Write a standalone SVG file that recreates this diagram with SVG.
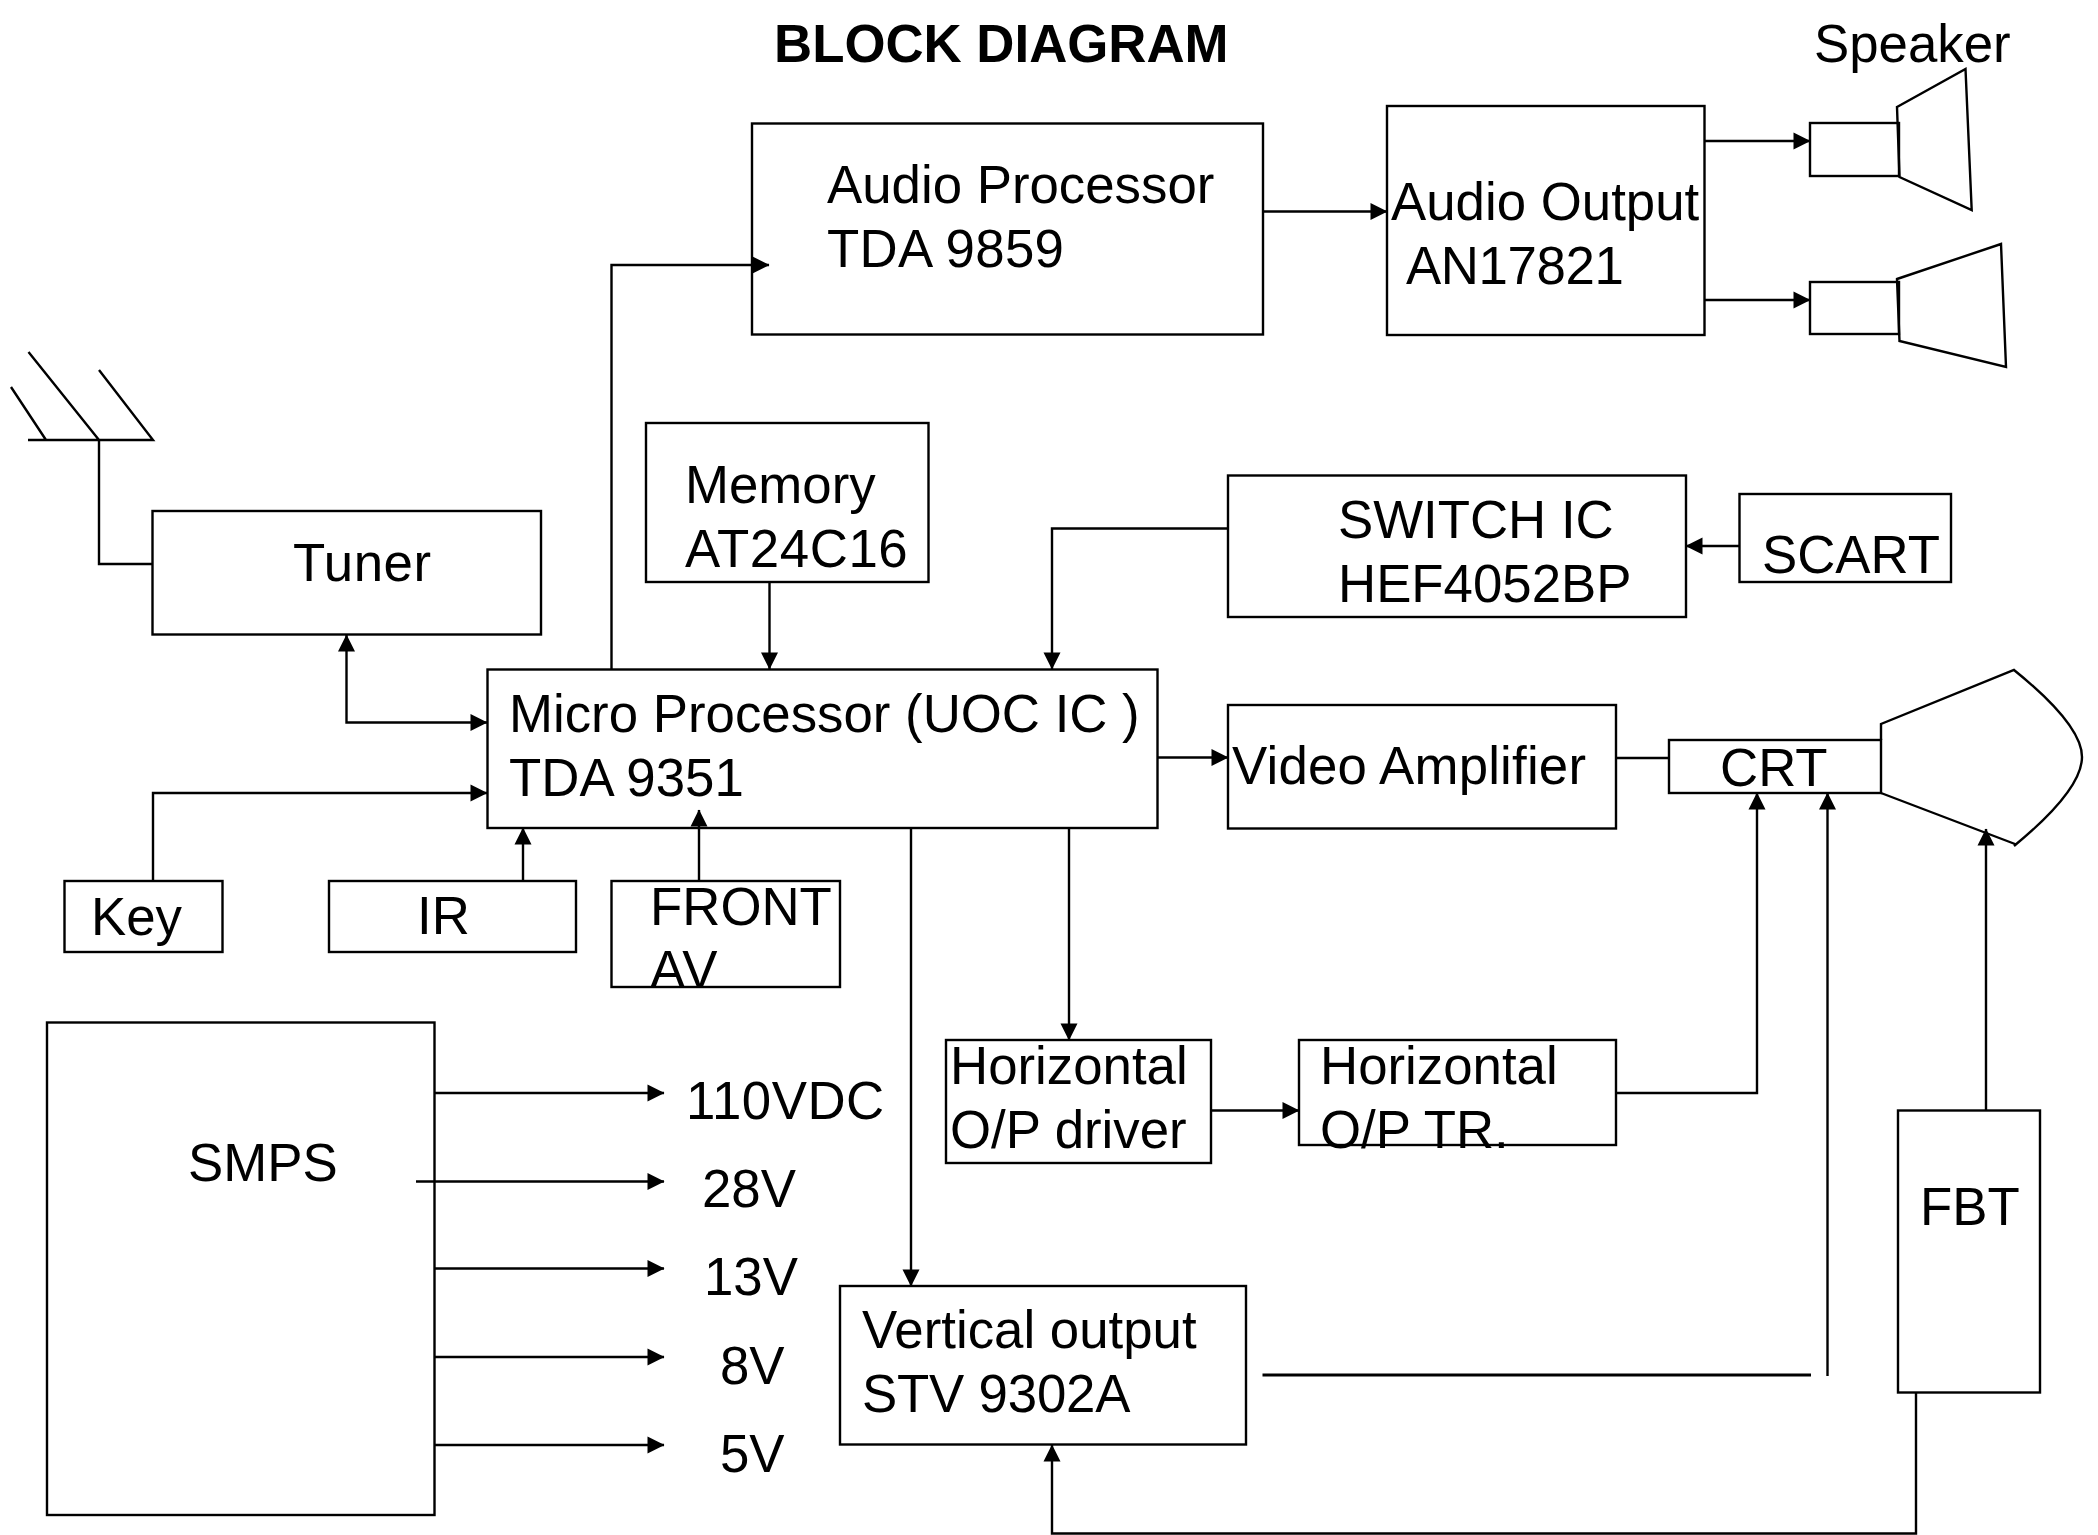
<svg xmlns="http://www.w3.org/2000/svg" width="2098" height="1535" viewBox="0 0 2098 1535">
<style>
rect,.s{fill:#fff;stroke:#000;stroke-width:2.4}
.s{fill:none}
.c path{fill:none;stroke:#000;stroke-width:2.4}
text{font-family:"Liberation Sans",Arial,sans-serif;font-size:52.800px;fill:#000}
.t{font-weight:bold}
</style>
<defs>
<marker id="a" markerUnits="userSpaceOnUse" markerWidth="18" markerHeight="18" refX="16.500" refY="8.500" orient="auto-start-reverse" overflow="visible"><path d="M0 0L17 8.500L0 17Z" fill="#000"/></marker>
</defs>
<rect width="2098" height="1535" style="stroke:none"/>
<text id="title" class="t" x="774" y="62">BLOCK DIAGRAM</text>
<g id="antenna"><path class="s" d="M28 440H153L99 370M99 440L28.500 352M46 440L11 387"/></g>
<g id="speaker1"><rect x="1810" y="123" width="89" height="53"/><path class="s" d="M1897 107L1965.500 69L1971.700 210L1899.500 177Z"/><text x="1814" y="62">Speaker</text></g>
<g id="speaker2"><rect x="1810" y="282" width="89" height="52"/><path class="s" d="M1897 279L2001 244L2006 367L1899.500 341Z"/></g>
<g id="crt"><path class="s" d="M1881 740V724L2014 670Q2082 725 2082 757Q2082 790 2014 846M1881 793L2015 844"/><rect x="1669" y="740" width="212" height="53"/><text x="1720" y="786">CRT</text></g>
<g id="audio-processor"><rect x="752" y="123.500" width="511" height="211"/><text x="827" y="203">Audio Processor</text><text x="827" y="267" letter-spacing="0.300">TDA 9859</text></g>
<g id="audio-output"><rect x="1387" y="106" width="317.500" height="229"/><text x="1391" y="220">Audio Output</text><text x="1406" y="284" letter-spacing="-0.400">AN17821</text></g>
<g id="tuner"><rect x="152.500" y="511" width="388.500" height="123.500"/><text x="293" y="581" letter-spacing="0.500">Tuner</text></g>
<g id="memory"><rect x="646" y="423" width="282.500" height="159"/><text x="685" y="503">Memory</text><text x="685" y="567" letter-spacing="0.600">AT24C16</text></g>
<g id="switch-ic"><rect x="1228" y="475.500" width="458" height="141.500"/><text x="1338" y="538">SWITCH IC</text><text x="1338" y="602">HEF4052BP</text></g>
<g id="scart"><rect x="1739.500" y="494" width="211.500" height="88"/><text x="1762" y="573">SCART</text></g>
<g id="micro"><rect x="487.500" y="669.500" width="670" height="158.500"/><text x="509" y="732">Micro Processor (UOC IC )</text><text x="509" y="796">TDA 9351</text></g>
<g id="video-amp"><rect x="1228" y="705" width="388" height="123.500"/><text x="1232" y="784" letter-spacing="0.200">Video Amplifier</text></g>
<g id="key"><rect x="64.500" y="881" width="158" height="71"/><text x="91" y="935">Key</text></g>
<g id="ir"><rect x="329" y="881" width="247" height="71"/><text x="417" y="934">IR</text></g>
<g id="front-av"><rect x="611.500" y="881" width="228.500" height="106"/><text x="650" y="925">FRONT</text><text x="650" y="988" letter-spacing="1">AV</text></g>
<g id="smps"><rect x="47" y="1022.500" width="387.500" height="492.500"/><text x="188" y="1181">SMPS</text></g>
<g id="h-driver"><rect x="946" y="1040" width="265" height="123"/><text x="950" y="1084">Horizontal</text><text x="950" y="1148">O/P driver</text></g>
<g id="h-tr"><rect x="1299" y="1040" width="317" height="105"/><text x="1320" y="1084">Horizontal</text><text x="1320" y="1148">O/P TR.</text></g>
<g id="v-output"><rect x="840" y="1286" width="406" height="158.500"/><text x="862" y="1348">Vertical output</text><text x="862" y="1412" letter-spacing="-0.200">STV 9302A</text></g>
<g id="fbt"><rect x="1898" y="1110.500" width="142" height="282"/><text x="1920" y="1225">FBT</text></g>
<g id="labels"><text x="686" y="1119" letter-spacing="0.500">110VDC</text><text x="702" y="1207">28V</text><text x="704" y="1295">13V</text><text x="720" y="1384">8V</text><text x="720" y="1472">5V</text></g>
<g class="c" id="connectors">
<path d="M99 440V564H152.500"/>
<path d="M346.500 635V722.500H487" marker-start="url(#a)" marker-end="url(#a)"/>
<path d="M153 881V793H487" marker-end="url(#a)"/>
<path d="M523 881V828" marker-end="url(#a)"/>
<path d="M699 881V810" marker-end="url(#a)"/>
<path d="M611.500 669V265H769" marker-end="url(#a)"/>
<path d="M1263 211.500H1387" marker-end="url(#a)"/>
<path d="M1704.500 141H1810" marker-end="url(#a)"/>
<path d="M1704.500 300H1810" marker-end="url(#a)"/>
<path d="M769.500 582V669" marker-end="url(#a)"/>
<path d="M1228 528.500H1052V669" marker-end="url(#a)"/>
<path d="M1739 546H1686" marker-end="url(#a)"/>
<path d="M1157 757.500H1228" marker-end="url(#a)"/>
<path d="M1616 758H1669"/>
<path d="M1069 828V1040" marker-end="url(#a)"/>
<path d="M911 828V1286" marker-end="url(#a)"/>
<path d="M1211 1110.500H1299" marker-end="url(#a)"/>
<path d="M1616 1093H1757V793" marker-end="url(#a)"/>
<path d="M1827.500 1376V793" marker-end="url(#a)"/>
<path d="M1986 1110.500V829" marker-end="url(#a)"/>
<path d="M1262.500 1375H1811" style="stroke-width:3"/>
<path d="M1916 1393V1533.500H1052V1445" marker-end="url(#a)"/>
<path d="M434.500 1093H664" marker-end="url(#a)"/>
<path d="M416 1181.500H664" marker-end="url(#a)"/>
<path d="M434.500 1268.500H664" marker-end="url(#a)"/>
<path d="M434.500 1357H664" marker-end="url(#a)"/>
<path d="M434.500 1445H664" marker-end="url(#a)"/>
</g>
</svg>
